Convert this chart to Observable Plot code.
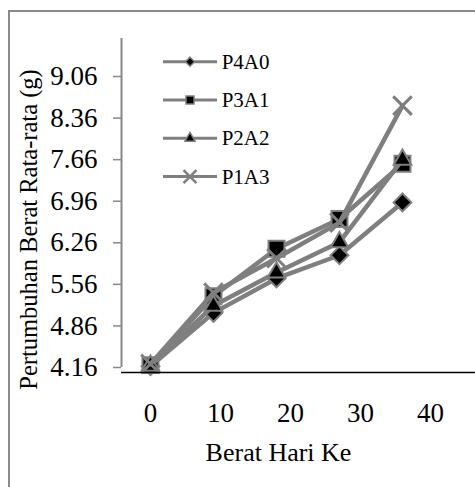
<!DOCTYPE html>
<html><head><meta charset="utf-8">
<script src="https://cdn.jsdelivr.net/npm/d3@7"></script>
<script src="https://cdn.jsdelivr.net/npm/@observablehq/plot@0.6"></script>
<style>
html,body{margin:0;padding:0;background:#fff;}
#wrap{position:relative;width:475px;height:487px;overflow:hidden;font-family:"Liberation Serif","Times New Roman",serif;}
#border{position:absolute;left:8px;top:10px;width:490px;height:500px;border:2px solid #8a8a8a;box-sizing:border-box;}
#chart{position:absolute;left:0;top:0;}
#legend{position:absolute;left:0;top:0;}
</style></head><body>
<div id="wrap"><div id="border"></div><div id="chart"></div><svg id="legend" width="475" height="487"></svg></div>
<script>
// ---- data ----
const days = [0, 9, 18, 27, 36];
const seriesNames = ["P4A0", "P3A1", "P2A2", "P1A3"];
const p4a0 = [4.18, 5.08, 5.66, 6.05, 6.94];
const p3a1 = [4.20, 5.36, 6.16, 6.66, 7.59];
const p2a2 = [4.19, 5.20, 5.76, 6.27, 7.66];
const p1a3 = [4.22, 5.42, 6.00, 6.60, 8.57];
const xTickLabels = [0, 10, 20, 30, 40];
const yTickLabels = [4.16, 4.86, 5.56, 6.26, 6.96, 7.66, 8.36, 9.06];
const xTitle = "Berat Hari Ke";
const yTitle = "Pertumbuhan Berat Rata-rata (g)";

const seriesValues = [p4a0, p3a1, p2a2, p1a3];
const symbols = ["diamond2", "square", "triangle", "times"];
const radii = [8, 9, 6.5, 8.5];
const lineGray = "#7f7f7f";
const axisGray = "#888888";
const font = '"Liberation Serif", "Times New Roman", serif';

const tables = seriesValues.map((vals, s) =>
  days.map((d, i) => ({series: seriesNames[s], day: d, value: vals[i]})));

const seriesMarks = tables.flatMap((rows, s) => [
  Plot.line(rows, {x: "day", y: "value", stroke: lineGray, strokeWidth: 4.5, strokeLinejoin: "round"}),
  symbols[s] === "times"
    ? Plot.dot(rows, {x: "day", y: "value", symbol: "times", r: radii[s], stroke: lineGray, strokeWidth: 3, fill: "none"})
    : Plot.dot(rows, {x: "day", y: "value", symbol: symbols[s], r: radii[s], fill: "black", stroke: lineGray, strokeWidth: 2})
]);

const chart = Plot.plot({
  width: 475,
  height: 487,
  marginLeft: 121,
  marginRight: 0,
  marginTop: 38,
  marginBottom: 120,
  x: {domain: [-4.14, 46.43], axis: null},
  y: {domain: [4.16, 9.70], axis: null},
  style: {fontFamily: font, background: "transparent", overflow: "visible", color: "black"},
  marks: [
    Plot.ruleX([-4.14], {stroke: axisGray, strokeWidth: 2}),
    Plot.axisY({ticks: yTickLabels, tickSize: 8, tickFormat: () => "", label: null, stroke: axisGray, strokeWidth: 1.5}),
    Plot.text(yTickLabels, {y: d => d, text: d => d.toFixed(2), frameAnchor: "left", dx: -24, textAnchor: "end", lineAnchor: "middle", fontSize: 27, fill: "black", fontFamily: font}),
    Plot.text(xTickLabels, {x: d => d, text: d => String(d), frameAnchor: "bottom", dy: 46, textAnchor: "middle", lineAnchor: "middle", fontSize: 27, fill: "black", fontFamily: font}),
    Plot.text([xTitle], {frameAnchor: "bottom", dx: -20, dy: 85, textAnchor: "middle", lineAnchor: "middle", fontSize: 26, fill: "black", fontFamily: font}),
    Plot.text([yTitle], {frameAnchor: "left", rotate: -90, dx: -92, dy: 26.5, textAnchor: "middle", lineAnchor: "middle", fontSize: 24.5, fill: "black", fontFamily: font}),
    ...seriesMarks,
    Plot.ruleY([4.16], {dy: 5, stroke: "black", strokeWidth: 1.5})
  ]
});
document.getElementById("chart").appendChild(chart);

// ---- legend overlay ----
const legendSymbols = [d3.symbolDiamond2, d3.symbolSquare, d3.symbolTriangle, d3.symbolTimes];
const legendSizes = [52, 64, 45, 110];
const lg = d3.select("#legend");
seriesNames.forEach((name, i) => {
  const g = lg.append("g").attr("transform", `translate(0,${61.7 + i * 38.3})`);
  g.append("line").attr("x1", 163).attr("x2", 217).attr("y1", 0).attr("y2", 0)
    .attr("stroke", lineGray).attr("stroke-width", 3);
  const p = g.append("path").attr("transform", "translate(190,0)")
    .attr("d", d3.symbol(legendSymbols[i], legendSizes[i])());
  if (i === 3) p.attr("fill", "none").attr("stroke", lineGray).attr("stroke-width", 2.5);
  else p.attr("fill", "black").attr("stroke", lineGray).attr("stroke-width", 1.5);
  g.append("text").attr("x", 221.7).attr("y", 0).attr("dy", "0.34em")
    .style("font-family", font).attr("font-size", 21).attr("fill", "black").text(name);
});
</script>
</body></html>
